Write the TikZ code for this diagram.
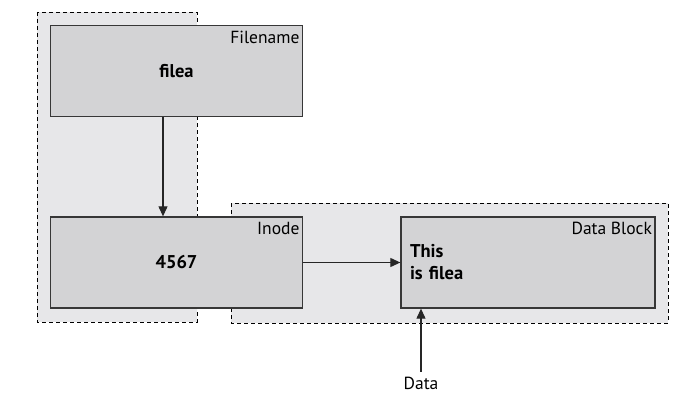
\documentclass[tikz,border=0pt]{standalone}
\usepackage{fontspec}
\setmainfont{PT Sans}
\usetikzlibrary{arrows.meta}
\definecolor{regiongray}{RGB}{231,231,233}
\definecolor{boxgray}{RGB}{211,211,213}
\definecolor{edgegray}{RGB}{55,55,55}
\tikzstyle{region}=[draw=black, fill=regiongray, dashed, dash pattern=on 4pt off 3pt, line width=0.9pt]
\tikzstyle{block}=[%
	draw=edgegray, fill=boxgray, line width=1.3pt, minimum height=91pt,
	font=\fontsize{18.5}{22}\selectfont\bfseries
]
\tikzstyle{tag}=[anchor=north east, inner sep=3.5pt, yshift=-2.5pt, font=\fontsize{17.5}{20}\selectfont]
\tikzstyle{arr}=[draw=black!85, line width=1.1pt, -{Triangle[length=10pt,width=9pt]}]

\begin{document}
\begin{tikzpicture}[x=1pt, y=-1pt]
	\useasboundingbox[fill=white] (0,0) rectangle (699,401);

	% dashed groups
	\draw[region] (37,12) rectangle (197,322);
	\draw[region] (231,203) rectangle (668,323);

	\node[block, minimum width=252pt, label={[tag]north east:Filename}] (filename) at (176.5,71) {filea};
	\node[block, minimum width=252pt, label={[tag]north east:Inode}] (inode) at (176.5,262.5) {4567};
	\node[block, minimum width=254pt, text width=236pt, inner sep=9pt, align=left,
		label={[tag]north east:Data Block}] (datablock) at (528,262.5) {This\\is filea};

	\node[font=\fontsize{17.5}{20}\selectfont, inner sep=2pt] (data) at (421,383) {Data};

	\draw[arr] ([xshift=-13.5pt]filename.south) -- ([xshift=-13.5pt]inode.north);
	\draw[arr] (inode.east) -- (datablock.west);
	\draw[arr, shorten <=3pt] (data.north) -- (data.north |- datablock.south);
\end{tikzpicture}
\end{document}
